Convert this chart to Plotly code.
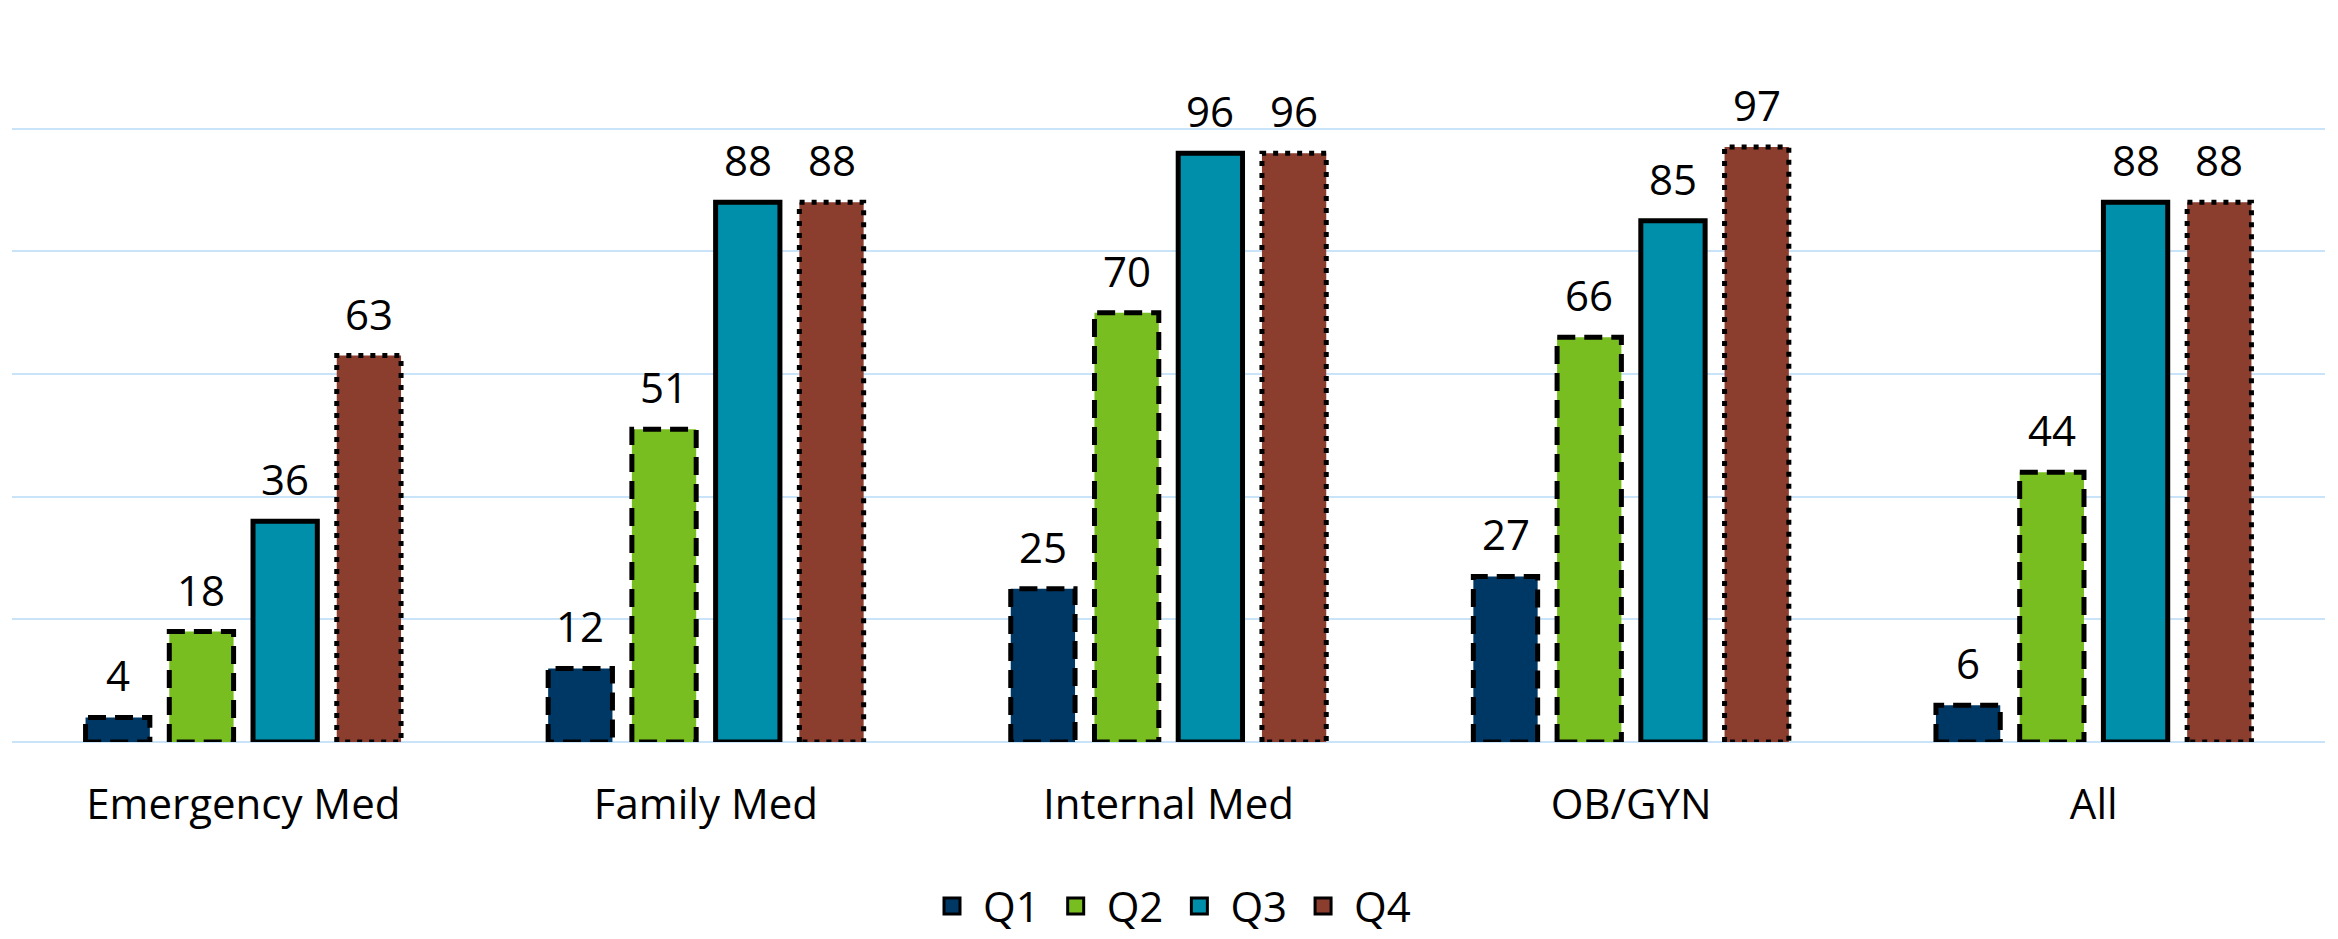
import plotly.graph_objects as go

categories = ["Emergency Med", "Family Med", "Internal Med", "OB/GYN", "All"]
series_names = ["Q1", "Q2", "Q3", "Q4"]
q1 = [4, 12, 25, 27, 6]
q2 = [18, 51, 70, 66, 44]
q3 = [36, 88, 96, 85, 88]
q4 = [63, 88, 96, 97, 88]
values = [q1, q2, q3, q4]

fill_colors = ["#003865", "#78BE20", "#008FAB", "#8B3D2E"]
outline_dash = ["18px,9px", "18px,9px", "solid", "5px,7px"]
offsets = [-0.2715, -0.0905, 0.0905, 0.2715]
bar_width = 0.139
FONT = "Open Sans"
FS = 42

fig = go.Figure()
xs = list(range(len(categories)))

for name, vals, color, off in zip(series_names, values, fill_colors, offsets):
    fig.add_trace(go.Bar(
        x=[x + off for x in xs], y=vals, width=bar_width, name=name,
        marker=dict(color=color, line=dict(width=0)),
        hoverinfo="y", showlegend=False,
    ))

# outline each bar with the series' dash style
for name, vals, dash, off in zip(series_names, values, outline_dash, offsets):
    px, py = [], []
    for x, v in zip(xs, vals):
        x0 = x + off - bar_width / 2
        x1 = x + off + bar_width / 2
        px += [x0, x0, x1, x1, x0, None]
        py += [0, v, v, 0, 0, None]
    fig.add_trace(go.Scatter(
        x=px, y=py, mode="lines", showlegend=False, hoverinfo="skip",
        line=dict(color="black", width=5, dash=dash),
    ))

# legend entries: filled squares with a black outline
for name, color in zip(series_names, fill_colors):
    fig.add_trace(go.Scatter(
        x=[None], y=[None], mode="markers", name=name,
        marker=dict(symbol="square", size=16, color=color,
                    line=dict(color="black", width=3)),
    ))

# value labels above each bar
for vals, off in zip(values, offsets):
    for x, v in zip(xs, vals):
        fig.add_annotation(
            x=x + off, y=v, text=str(v), showarrow=False,
            yanchor="bottom", yshift=12,
            font=dict(family=FONT, size=FS, color="black"),
        )

fig.update_layout(
    width=2338, height=939,
    margin=dict(l=12, r=13, t=6, b=197, autoexpand=False),
    paper_bgcolor="white", plot_bgcolor="white",
    barmode="overlay",
    font=dict(family=FONT, size=FS, color="black"),
    showlegend=True,
    legend=dict(
        orientation="h", x=0.5, xanchor="center", y=-0.223, yanchor="middle",
        font=dict(family=FONT, size=FS), itemwidth=52,
    ),
    xaxis=dict(
        range=[-0.5, 4.5], tickmode="array", tickvals=xs, ticktext=categories,
        showgrid=False, zeroline=False, showline=False, ticks="",
        ticklabelstandoff=34, automargin=False,
        tickfont=dict(family=FONT, size=FS),
    ),
    yaxis=dict(
        range=[0, 120], dtick=20, showticklabels=False, automargin=False,
        showgrid=True, gridcolor="#C9E4F8", gridwidth=2,
        zeroline=True, zerolinecolor="#C9E4F8", zerolinewidth=2,
    ),
)

fig.write_html("out.html")
